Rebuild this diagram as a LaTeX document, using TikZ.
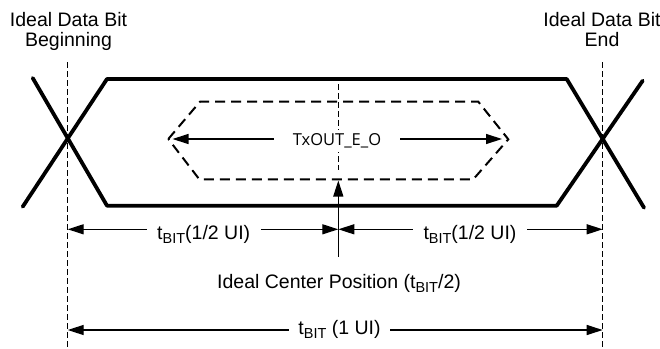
\documentclass[tikz,border=0pt]{standalone}
\usepackage{fontspec}
\setmainfont{Liberation Sans}
\newfontfamily\winfont{Open Sans}
\usetikzlibrary{arrows.meta}
\newcommand{\bitsub}{\raisebox{-4pt}{\fontsize{14.5}{14.5}\selectfont BIT}}
\begin{document}
\begin{tikzpicture}[x=1pt,y=-1pt,
  sig/.style={line width=3.8pt, line cap=round, line join=round},
  win/.style={line width=2pt, dash pattern=on 10pt off 6pt},
  guide/.style={line width=1.2pt, dash pattern=on 6pt off 3pt},
  dim/.style={line width=1.3pt, -{Triangle[length=16pt,width=10pt]}},
  lbl/.style={font=\fontsize{19.5}{20}\selectfont, inner ysep=0pt, anchor=base},
]
\useasboundingbox (0,0) rectangle (660,348);
% key coordinates
\coordinate (gLt) at (67.7,62);
\coordinate (gLb) at (67.7,348);
\coordinate (gRt) at (602.7,62);
\coordinate (gRb) at (602.7,348);
\coordinate (cTop) at (338.3,84);
\coordinate (cTip) at (338.3,180.5);
\coordinate (cBot) at (338.3,256.7);
% signal eye
\coordinate (s1) at (32.7,78);
\coordinate (s2) at (107,205.7);
\coordinate (s3) at (556.7,205.7);
\coordinate (s4) at (642.7,80.7);
\coordinate (t1) at (22.7,206.7);
\coordinate (t2) at (107,79);
\coordinate (t3) at (566.7,79);
\coordinate (t4) at (644,207.7);
\draw[sig] (s1) -- (s2) -- (s3) -- (s4);
\draw[sig] (t1) -- (t2) -- (t3) -- (t4);
% guide lines
\draw[guide] (gLt) -- (gLb);
\draw[guide] (gRt) -- (gRb);
\draw[guide] (cTop) -- (338.3,170) coordinate (cDash);
% inner window
\coordinate (w1) at (168.3,139);
\coordinate (w2) at (200,101.7);
\coordinate (w3) at (478.3,101.7);
\coordinate (w4) at (508.3,139.3);
\coordinate (w5) at (473.3,179.3);
\coordinate (w6) at (199.3,179.3);
\draw[win] (w1) -- (w2) -- (w3) -- (w4) -- (w5) -- (w6) -- cycle;
\coordinate (wl) at (172.5,139);
\coordinate (wr) at (502,139);
\node[fill=white, inner xsep=19pt, inner ysep=4pt, anchor=base,
      font=\winfont\fontsize{16.5}{17}\selectfont] (tx) at (337,145.7) {TxOUT\_E\_O};
\draw[dim] (tx.west |- wl) -- (wl);
\draw[dim] (tx.east |- wr) -- (wr);
% center arrow
\draw[dim] (cBot) -- (cTip);
% top labels
\node[lbl] (lb1) at (68.5,26.7) {Ideal Data Bit};
\node[lbl] (lb2) at (68.5,46.7) {Beginning};
\node[lbl] (le1) at (602,26.7) {Ideal Data Bit};
\node[lbl] (le2) at (602,46.7) {End};
% half-bit dimensions
\coordinate (hl) at (67.7,229.3);
\coordinate (hm) at (338.3,229.3);
\coordinate (hr) at (602.7,229.3);
\node[lbl, inner xsep=10.5pt] (h1) at (203.7,239) {t\bitsub(1/2 UI)};
\node[lbl, inner xsep=10.5pt] (h2) at (470,239) {t\bitsub(1/2 UI)};
\draw[dim] (h1.west |- hl) -- (hl);
\draw[dim] (h1.east |- hl) -- (hm);
\draw[dim] (h2.west |- hl) -- (hm);
\draw[dim] (h2.east |- hl) -- (hr);
% center label
\node[lbl] (cl) at (339,288.3) {Ideal Center Position (t\bitsub/2)};
% full bit
\coordinate (fl) at (67.7,330);
\coordinate (fr) at (602.7,330);
\node[lbl, inner xsep=9.5pt] (fb) at (339.5,334) {t\bitsub{} (1 UI)};
\draw[dim] (fb.west |- fl) -- (fl);
\draw[dim] (fb.east |- fl) -- (fr);
\end{tikzpicture}
\end{document}
